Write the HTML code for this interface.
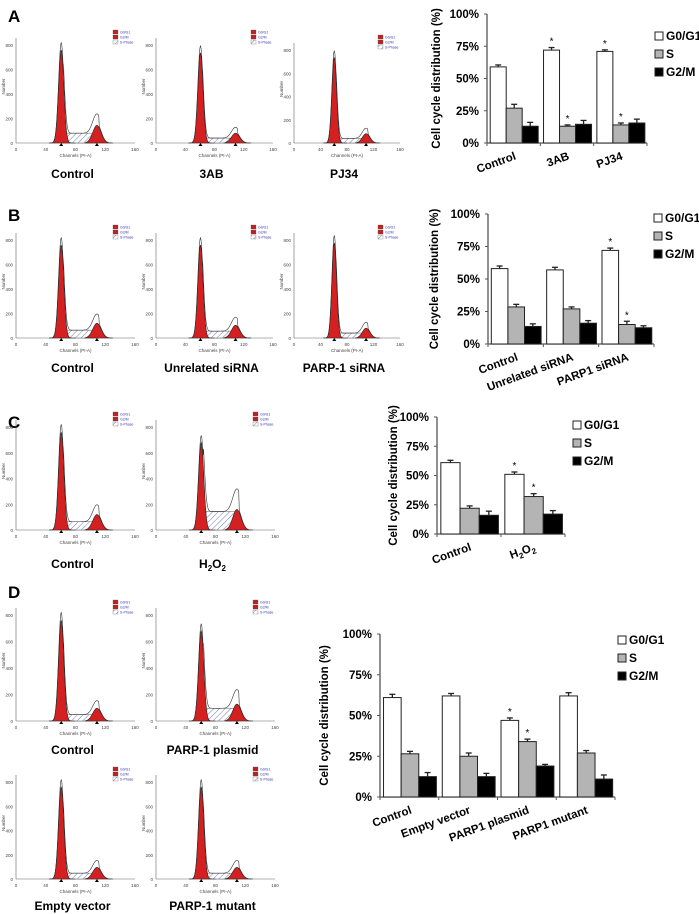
<!DOCTYPE html>
<html><head><meta charset="utf-8"><style>
body{margin:0;background:#fff;}
svg{display:block;font-family:"Liberation Sans",Arial,sans-serif;}
</style></head><body>
<svg id="fig" width="699" height="914" viewBox="0 0 699 914">
<defs>
<pattern id="hatch" width="4" height="4" patternUnits="userSpaceOnUse" patternTransform="rotate(45)">
<rect width="4" height="4" fill="#fff"/><line x1="0" y1="0" x2="0" y2="4" stroke="#7080b0" stroke-width="1"/>
</pattern>
</defs>
<text x="8" y="22" font-size="17" font-weight="bold">A</text>
<text x="8" y="221" font-size="17" font-weight="bold">B</text>
<text x="8" y="428" font-size="17" font-weight="bold">C</text>
<text x="8" y="598" font-size="17" font-weight="bold">D</text>
<g id="hists"></g>
<g id="charts"></g>
</svg>
<script>
// ---- chart data ----
const catsA = ["Control","3AB","PJ34"];
const g1A = [59,72,71], sA = [27,13,14], g2A = [13,14.5,15.5];
const eG1A = [1.5,2,1.2], eSA = [3,1,1.5], eG2A = [3,3,3];
const starG1A = [0,1,1], starSA = [0,1,1];

const catsB = ["Control","Unrelated siRNA","PARP1 siRNA"];
const g1B = [58,57,72], sB = [28.5,27,15], g2B = [13.5,16,12.5];
const eG1B = [2,2,1.8], eSB = [2,1.5,2.5], eG2B = [2,2,1.5];
const starG1B = [0,0,1], starSB = [0,0,1];

const catsC = ["Control","H2O2"];
const g1C = [61,51], sC = [22,32], g2C = [16,17];
const eG1C = [2,2], eSC = [2,2.5], eG2C = [3.5,3];
const starG1C = [0,1], starSC = [0,1];

const catsD = ["Control","Empty vector","PARP1 plasmid","PARP1 mutant"];
const g1D = [61,62,47,62], sD = [26.5,25,34,27], g2D = [12.5,12.5,19,11];
const eG1D = [2,1.5,1.5,2], eSD = [1.5,2,1.5,1.5], eG2D = [2.5,2,1,2.5];
const starG1D = [0,0,1,0], starSD = [0,0,1,0];
const yTicks = ["0%","25%","50%","75%","100%"];

const NS="http://www.w3.org/2000/svg";
function mk(parent,tag,attrs,text){const e=document.createElementNS(NS,tag);for(const k in attrs)e.setAttribute(k,attrs[k]);if(text!==undefined)e.textContent=text;parent.appendChild(e);return e;}

function barChart(id,cats,g1,s,g2,eg1,es,eg2,stG1,stS,ax,y0,y100,xEnd,lx,ly,ty,tcx){
  const root=document.getElementById('charts');
  const g=mk(root,'g',{});
  
  
  const ys=v=>y0-(v/100)*(y0-y100);
  const gw=(xEnd-ax)/cats.length;
  const bw=gw*0.3, off=gw*0.06;
  const yl=mk(g,'line',{x1:ax,y1:y100,x2:ax,y2:y0,stroke:'#555','stroke-width':1.3});
  
  
  const xl=mk(g,'line',{x1:ax,y1:y0,x2:xEnd,y2:y0,stroke:'#555','stroke-width':1.3});
  
  
  for(let i=0;i<=cats.length;i++){mk(g,'line',{x1:ax+i*gw,y1:y0,x2:ax+i*gw,y2:y0+3,stroke:'#555'});}
  yTicks.forEach((t,i)=>{const y=ys(i*25);mk(g,'line',{x1:ax-3,y1:y,x2:ax,y2:y,stroke:'#555'});
    const tt=mk(g,'text',{x:ax-8,y:y+4,'font-size':11.5,'font-weight':'bold','text-anchor':'end'},t);
    
    });
  const cy=(y0+y100)/2;
  const ttl=mk(g,'text',{x:ty,y:cy,'font-size':11.5,'font-weight':'bold','text-anchor':'middle',transform:`rotate(-90 ${ty} ${cy})`},'Cell cycle distribution (%)');
  
  
  const series=[[g1,eg1,'#fff',stG1,'g0g1'],[s,es,'#b4b4b4',stS,'s'],[g2,eg2,'#000',null,'g2m']];
  cats.forEach((c,i)=>{
    series.forEach((sr,j)=>{
      const v=sr[0][i], e=sr[1][i];
      const x=ax+i*gw+off+j*bw;
      const r=mk(g,'rect',{x:x,y:ys(v),width:bw,height:y0-ys(v),fill:sr[2],stroke:'#222','stroke-width':1});
      
      
      const cx=x+bw/2, ye=ys(v+e);
      mk(g,'line',{x1:cx,y1:ys(v),x2:cx,y2:ye,stroke:'#222','stroke-width':1.3});
      mk(g,'line',{x1:cx-3,y1:ye,x2:cx+3,y2:ye,stroke:'#222','stroke-width':1.3});
      if(sr[3]&&sr[3][i]){const st=mk(g,'text',{x:cx,y:ye-3,'font-size':10,'text-anchor':'middle'},'*');
        
        }
    });
    const cxg=ax+i*gw+gw/2+tcx;
    const lab=mk(g,'text',{x:cxg,y:y0+16,'font-size':11.5,'font-weight':'bold','text-anchor':'end',transform:`rotate(-20 ${cxg} ${y0+16})`});
    
    
    if(c==='H2O2'){lab.innerHTML='H<tspan font-size="8" dy="3">2</tspan><tspan dy="-3">O</tspan><tspan font-size="8" dy="3">2</tspan>';}
    else lab.textContent=c;
  });
  const legs=[['G0/G1','#fff'],['S','#b4b4b4'],['G2/M','#000']];
  legs.forEach((l,k)=>{const y=ly+k*18;
    const lg=mk(g,'g',{});
    
    
    mk(lg,'rect',{x:lx,y:y-8,width:8,height:8,fill:l[1],stroke:'#222'});
    mk(lg,'text',{x:lx+11,y:y,'font-size':12,'font-weight':'bold'},l[0]);});
}
barChart('chart-a',catsA,g1A,sA,g2A,eG1A,eSA,eG2A,starG1A,starSA,487,143,14,647,655,40,440,3);
barChart('chart-b',catsB,g1B,sB,g2B,eG1B,eSB,eG2B,starG1B,starSB,488,344,214,654,654,222,438,3);
barChart('chart-c',catsC,g1C,sC,g2C,eG1C,eSC,eG2C,starG1C,starSC,437,534,417,565,573,429,397,3);
barChart('chart-d',catsD,g1D,sD,g2D,eG1D,eSD,eG2D,starG1D,starSD,380,797,634,615,618,644,328,3);

// ---- flow cytometry histograms (illustrative) ----
function hist(name,x0,y0,w,h,label,ly,g1h,sh,g2h){
  const root=document.getElementById('hists');
  const g=mk(root,'g',{});
  
  
  const ax=x0+16, bx=y0+h, xe=x0+w;
  const pw=xe-ax;
  const X=f=>ax+f*pw;
  mk(g,'line',{x1:ax,y1:y0+8,x2:ax,y2:bx,stroke:'#666','stroke-width':0.6});
  mk(g,'line',{x1:ax,y1:bx,x2:xe,y2:bx,stroke:'#666','stroke-width':0.6});
  ['0','40','80','120','160'].forEach((t,i)=>{mk(g,'text',{x:X(i/4),y:bx+8,'font-size':4.5,'text-anchor':'middle',fill:'#444'},t);});
  for(let i=0;i<5;i++){const y=bx-i*(h-15)/4;mk(g,'text',{x:ax-3,y:y+2,'font-size':4.5,'text-anchor':'end',fill:'#444'},String(i*200));}
  mk(g,'text',{x:X(0.5),y:bx+14,'font-size':4.5,'text-anchor':'middle',fill:'#444'},'Channels (PI-A)');
  mk(g,'text',{x:ax-11,y:(y0+bx)/2,'font-size':4.5,'text-anchor':'middle',fill:'#444',transform:`rotate(-90 ${ax-11} ${(y0+bx)/2})`},'Number');
  const p1=0.38,p2=0.68, H=(h-15);
  const gauss=(f,c,s)=>Math.exp(-((f-c)*(f-c))/(2*s*s));
  let d1=`M${X(0.28)},${bx}`,d2=`M${X(0.58)},${bx}`,dS=`M${X(0.38)},${bx}`,dO=`M${X(0.28)},${bx}`;
  for(let f=0.28;f<=0.5;f+=0.005)d1+=` L${X(f)},${bx-g1h*H*gauss(f,p1,0.022)}`;
  d1+=` L${X(0.5)},${bx}Z`;
  for(let f=0.58;f<=0.8;f+=0.005)d2+=` L${X(f)},${bx-g2h*H*gauss(f,p2,0.035)}`;
  d2+=` L${X(0.8)},${bx}Z`;
  for(let f=0.38;f<=0.7;f+=0.01)dS+=` L${X(f)},${bx-sh*H*(f<0.42?(f-0.38)/0.04:1)}`;
  dS+=` L${X(0.7)},${bx}Z`;
  mk(g,'path',{d:dS,fill:'url(#hatch)',stroke:'#555','stroke-width':0.5});
  mk(g,'path',{d:d1,fill:'#d42020',stroke:'#222','stroke-width':0.6});
  mk(g,'path',{d:d2,fill:'#d42020',stroke:'#222','stroke-width':0.6});
  for(let f=0.28;f<=0.82;f+=0.005){const v=g1h*1.08*gauss(f,p1,0.022)+g2h*1.1*gauss(f,p2,0.035)+sh*(f>0.4&&f<0.7?1:0);dO+=` L${X(f)},${bx-Math.min(v,1.05)*H}`;}
  mk(g,'path',{d:dO,fill:'none',stroke:'#333','stroke-width':0.6});
  mk(g,'path',{d:`M${X(p1)-2},${bx+3} L${X(p1)},${bx} L${X(p1)+2},${bx+3}Z`,fill:'#000'});
  mk(g,'path',{d:`M${X(p2)-2},${bx+3} L${X(p2)},${bx} L${X(p2)+2},${bx+3}Z`,fill:'#000'});
  [['G0/G1','#c02020'],['G2/M','#c02020'],['S-Phase','url(#hatch)']].forEach((l,k)=>{
    mk(g,'rect',{x:xe-22,y:y0+k*5,width:5,height:4,fill:l[1],stroke:'#555','stroke-width':0.3});
    mk(g,'text',{x:xe-15,y:y0+3.5+k*5,'font-size':3.5,fill:'#33a'},l[0]);});
  const t=mk(g,'text',{x:x0+w/2+5,y:ly,'font-size':12,'font-weight':'bold','text-anchor':'middle'});
  
  
  if(label==='H2O2')t.innerHTML='H<tspan font-size="8" dy="3">2</tspan><tspan dy="-3">O</tspan><tspan font-size="8" dy="3">2</tspan>';
  else t.textContent=label;
}
hist('hist-a-control',0,30,135,113,'Control',178,0.95,0.1,0.18);
hist('hist-a-3ab',140,30,133,113,'3AB',178,0.92,0.05,0.1);
hist('hist-a-pj34',278,35,122,108,'PJ34',178,0.92,0.05,0.1);
hist('hist-b-control',0,225,135,113,'Control',372,0.95,0.08,0.15);
hist('hist-b-unrelated',140,225,133,113,'Unrelated siRNA',372,0.95,0.07,0.13);
hist('hist-b-parp1',278,225,122,113,'PARP-1 siRNA',372,0.97,0.05,0.1);
hist('hist-c-control',0,412,135,118,'Control',568,0.95,0.08,0.15);
hist('hist-c-h2o2',140,412,135,118,'H2O2',568,0.85,0.18,0.2);
hist('hist-d-control',0,600,135,121,'Control',754,0.95,0.06,0.12);
hist('hist-d-plasmid',140,600,135,121,'PARP-1 plasmid',754,0.85,0.12,0.16);
hist('hist-d-empty',0,767,135,112,'Empty vector',910,0.95,0.06,0.12);
hist('hist-d-mutant',140,767,135,112,'PARP-1 mutant',910,0.95,0.06,0.12);
</script>
</body></html>
